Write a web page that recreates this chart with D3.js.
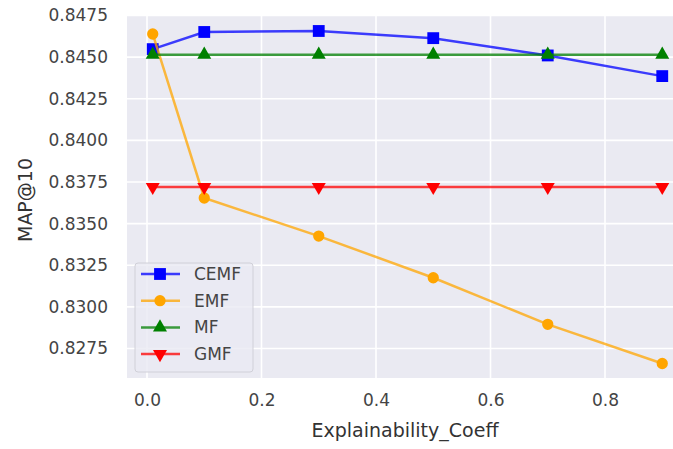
<!DOCTYPE html>
<html><head><meta charset="utf-8">
<script src="https://cdn.jsdelivr.net/npm/d3@7"></script>
<style>body{margin:0;background:#fff}svg{display:block}</style>
</head><body><svg id="c" width="673" height="449"></svg>
<script>
const xValues = [0.01, 0.1, 0.3, 0.5, 0.7, 0.9];
const cemf = [0.84548, 0.84651, 0.84657, 0.84614, 0.84510, 0.84386];
const emf  = [0.84639, 0.83654, 0.83425, 0.83175, 0.82895, 0.82660];
const mf   = [0.84515, 0.84515, 0.84515, 0.84515, 0.84515, 0.84515];
const gmf  = [0.83720, 0.83720, 0.83720, 0.83720, 0.83720, 0.83720];
const xTicks = [0.0, 0.2, 0.4, 0.6, 0.8];
const yTicks = [0.8275, 0.8300, 0.8325, 0.8350, 0.8375, 0.8400, 0.8425, 0.8450, 0.8475];
const seriesNames = ["CEMF", "EMF", "MF", "GMF"];
const seriesColors = ["#0000ff", "#ffa500", "#008000", "#ff0000"];
const seriesMarkers = ["square", "circle", "triangleUp", "triangleDown"];
const seriesData = [cemf, emf, mf, gmf];

const svg = d3.select("#c");
const L = 127, T = 16, R = 673, B = 378;
const x = d3.scaleLinear().domain([0, 0.2]).range([147, 261.5]);
const y = d3.scaleLinear().domain([0.8275, 0.8475]).range([348.5, 15.5]);

svg.append("rect").attr("x", L).attr("y", T).attr("width", R - L).attr("height", B - T).attr("fill", "#eaeaf2");

const font = "DejaVu Sans, sans-serif";
// grid
svg.append("g").selectAll("line").data(xTicks).join("line")
  .attr("x1", d => x(d)).attr("x2", d => x(d)).attr("y1", T).attr("y2", B)
  .attr("stroke", "#fff").attr("stroke-width", 1.6);
svg.append("g").selectAll("line").data(yTicks).join("line")
  .attr("x1", L).attr("x2", R).attr("y1", d => y(d)).attr("y2", d => y(d))
  .attr("stroke", "#fff").attr("stroke-width", 1.6);

// axes via d3 axis
const xAxis = svg.append("g").attr("transform", `translate(0,${B})`)
  .call(d3.axisBottom(x).tickValues(xTicks).tickFormat(d3.format(".1f")).tickSize(0).tickPadding(16));
const yAxis = svg.append("g").attr("transform", `translate(${L},0)`)
  .call(d3.axisLeft(y).tickValues(yTicks).tickFormat(d3.format(".4f")).tickSize(0).tickPadding(19));
[xAxis, yAxis].forEach(a => {
  a.select(".domain").remove();
  a.selectAll("text").attr("font-family", font).attr("font-size", 17).attr("fill", "#444");
});

// labels
svg.append("text").attr("x", 405).attr("y", 437).attr("text-anchor", "middle")
  .attr("font-family", font).attr("font-size", 19).attr("fill", "#333").text("Explainability_Coeff");
svg.append("text").attr("transform", "translate(32,200) rotate(-90)").attr("text-anchor", "middle")
  .attr("font-family", font).attr("font-size", 19).attr("fill", "#333").text("MAP@10");

const symbolFor = m => ({
  square: d3.symbol().type(d3.symbolSquare).size(140),
  circle: d3.symbol().type(d3.symbolCircle).size(100),
  triangleUp: d3.symbol().type(d3.symbolTriangle).size(85),
  triangleDown: d3.symbol().type(d3.symbolTriangle).size(85)
})[m];

const line = d3.line().x((d, i) => x(xValues[i])).y(d => y(d));
const plot = svg.append("g");
seriesData.forEach((data, si) => {
  const g = plot.append("g");
  g.append("path").attr("d", line(data)).attr("fill", "none")
    .attr("stroke", seriesColors[si]).attr("stroke-width", 2.5).attr("opacity", 0.75);
  g.selectAll("path.m").data(data).join("path").attr("class", "m")
    .attr("d", symbolFor(seriesMarkers[si])())
    .attr("transform", (d, i) => `translate(${x(xValues[i])},${y(d)})` + (seriesMarkers[si] === "triangleDown" ? " rotate(180)" : ""))
    .attr("fill", seriesColors[si]);
});

// legend
const lg = svg.append("g");
lg.append("rect").attr("x", 135).attr("y", 263).attr("width", 118).attr("height", 109).attr("rx", 3)
  .attr("fill", "#eaeaf2").attr("fill-opacity", 0.8).attr("stroke", "#d0d0d8").attr("stroke-width", 1);
seriesNames.forEach((name, i) => {
  const yy = 274 + i * 26.7;
  lg.append("line").attr("x1", 141).attr("x2", 180).attr("y1", yy).attr("y2", yy)
    .attr("stroke", seriesColors[i]).attr("stroke-width", 2.5).attr("opacity", 0.75);
  lg.append("path").attr("d", symbolFor(seriesMarkers[i])())
    .attr("transform", `translate(160,${yy})` + (seriesMarkers[i] === "triangleDown" ? " rotate(180)" : ""))
    .attr("fill", seriesColors[i]);
  lg.append("text").attr("x", 194).attr("y", yy + 6).attr("font-family", font).attr("font-size", 17)
    .attr("fill", "#444").text(name);
});
</script></body></html>
